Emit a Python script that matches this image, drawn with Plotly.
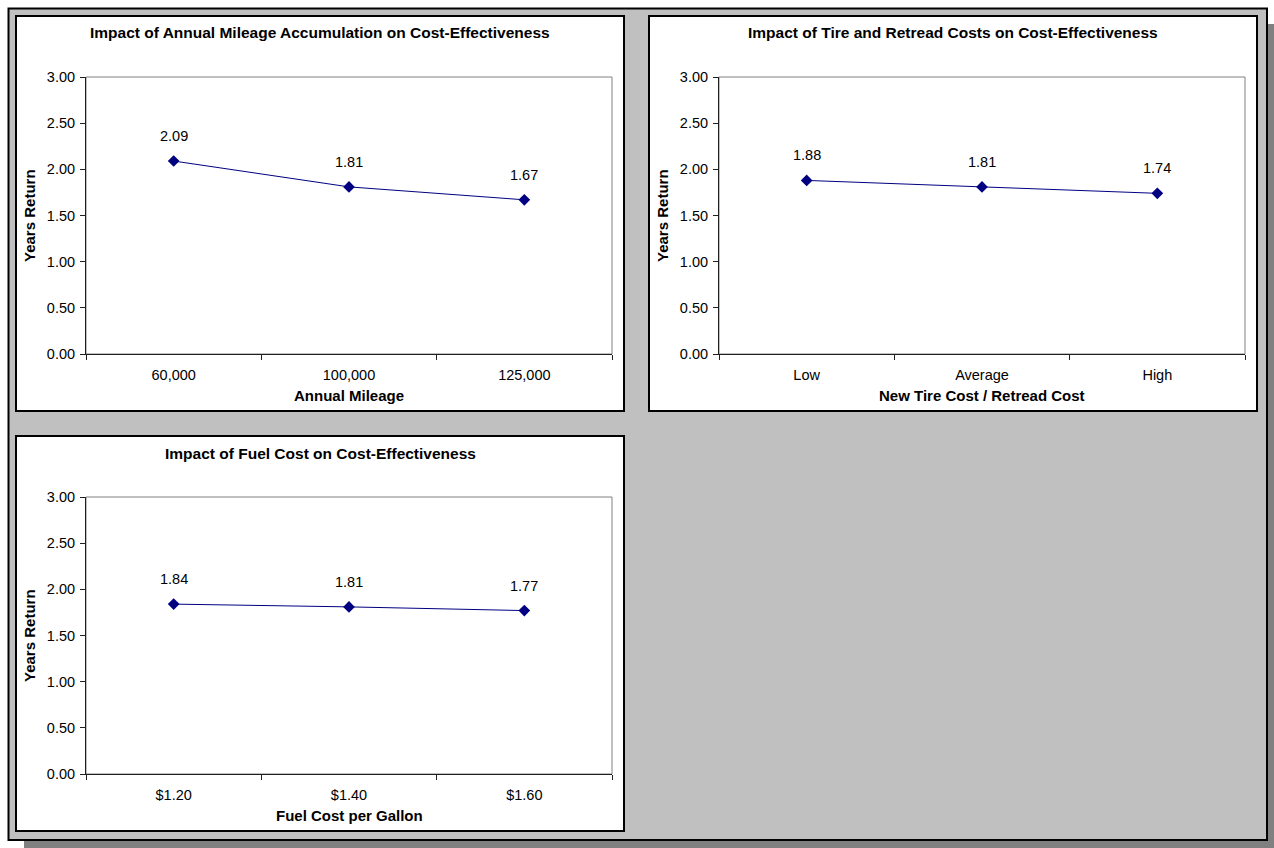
import plotly.graph_objects as go

# ---------------- data ----------------
mileage_cats = ["60,000", "100,000", "125,000"]
mileage_vals = [2.09, 1.81, 1.67]

tire_cats = ["Low", "Average", "High"]
tire_vals = [1.88, 1.81, 1.74]

fuel_cats = ["$1.20", "$1.40", "$1.60"]
fuel_vals = [1.84, 1.81, 1.77]

titles = [
    "Impact of Annual Mileage Accumulation on Cost-Effectiveness",
    "Impact of Tire and Retread Costs on Cost-Effectiveness",
    "Impact of Fuel Cost on Cost-Effectiveness",
]
x_titles = ["Annual Mileage", "New Tire Cost / Retread Cost", "Fuel Cost per Gallon"]
y_title = "Years Return"
y_ticks = [0.0, 0.5, 1.0, 1.5, 2.0, 2.5, 3.0]

# ---------------- layout helpers ----------------
W, H = 1274, 848
FONT = "Liberation Sans, Arial, sans-serif"
NAVY = "#000080"


def px(x):
    return x / W


def py(y):
    return 1 - y / H


# panel boxes (left, top, right, bottom) in pixels
panels = [(16, 16, 624, 411), (649, 16, 1257, 411), (16, 436, 624, 831)]
# plot areas (left, top, right, bottom)
plots = [(86, 77, 612, 354), (719, 77, 1245, 354), (86, 497, 612, 774)]

series = [(mileage_cats, mileage_vals), (tire_cats, tire_vals), (fuel_cats, fuel_vals)]

fig = go.Figure()
shapes = []
annotations = []

# shadow and outer frame
shapes.append(dict(type="rect", xref="paper", yref="paper", layer="below",
                   x0=px(24), x1=px(1274), y0=py(848), y1=py(24),
                   fillcolor="#808080", line=dict(width=0)))
shapes.append(dict(type="rect", xref="paper", yref="paper", layer="below",
                   x0=px(8.5), x1=px(1267), y0=py(840), y1=py(8.5),
                   fillcolor="#C0C0C0", line=dict(color="black", width=2)))
for (l, t, r, b) in panels:
    shapes.append(dict(type="rect", xref="paper", yref="paper", layer="below",
                       x0=px(l), x1=px(r), y0=py(b), y1=py(t),
                       fillcolor="white", line=dict(color="black", width=2)))

for i, ((cats, vals), (l, t, r, b), (pl, pt, pr, pb)) in enumerate(zip(series, plots, panels)):
    n = i + 1
    xa = "x" if n == 1 else f"x{n}"
    ya = "y" if n == 1 else f"y{n}"
    fig.add_trace(go.Scatter(
        x=cats, y=vals, mode="lines+markers",
        line=dict(color=NAVY, width=1),
        marker=dict(symbol="diamond", size=9, color=NAVY),
        xaxis=xa, yaxis=ya, showlegend=False, hoverinfo="x+y",
    ))
    xkey = "xaxis" if n == 1 else f"xaxis{n}"
    ykey = "yaxis" if n == 1 else f"yaxis{n}"
    fig.update_layout(**{
        xkey: dict(domain=[px(l), px(r)], anchor=ya, type="category",
                   categoryorder="array", categoryarray=cats,
                   range=[-0.5, len(cats) - 0.5], automargin=False,
                   showgrid=False, zeroline=False, showline=True,
                   linecolor="#202020", linewidth=1,
                   ticks="outside", tickson="boundaries", ticklen=5,
                   tickcolor="#202020", tickwidth=1, ticklabelstandoff=8,
                   tickfont=dict(family=FONT, size=14.5, color="black")),
        ykey: dict(domain=[py(b), py(t)], anchor=xa, range=[0, 3],
                   tickvals=y_ticks, tickformat=".2f", automargin=False,
                   showgrid=False, zeroline=False, showline=True,
                   linecolor="#202020", linewidth=1,
                   ticks="outside", ticklen=5, tickcolor="#202020", tickwidth=1,
                   ticklabelstandoff=2,
                   tickfont=dict(family=FONT, size=14.5, color="black")),
    })
    # plot-area border (gray top/right)
    shapes.append(dict(type="rect", xref=f"{xa} domain", yref=f"{ya} domain", layer="below",
                       x0=0, x1=1, y0=0, y1=1, fillcolor="rgba(0,0,0,0)",
                       line=dict(color="#808080", width=1)))
    # data labels
    for c, v in zip(cats, vals):
        annotations.append(dict(x=c, y=v, xref=xa, yref=ya, text=f"{v:.2f}",
                                showarrow=False, yshift=25,
                                font=dict(family=FONT, size=14.5, color="black")))
    (PL, PT, PR, PB) = panels[i]
    (l, t, r, b) = plots[i]
    # chart title
    annotations.append(dict(x=px((PL + PR) / 2), y=py(PT + 17), xref="paper", yref="paper",
                            text=f"<b>{titles[i]}</b>", showarrow=False,
                            xanchor="center", yanchor="middle",
                            font=dict(family=FONT, size=15.5, color="black")))
    # x-axis title
    annotations.append(dict(x=px((l + r) / 2), y=py(b + 41), xref="paper", yref="paper",
                            text=f"<b>{x_titles[i]}</b>", showarrow=False,
                            xanchor="center", yanchor="middle",
                            font=dict(family=FONT, size=15, color="black")))
    # y-axis title
    annotations.append(dict(x=px(l - 56.5), y=py((t + b) / 2), xref="paper", yref="paper",
                            text=f"<b>{y_title}</b>", showarrow=False, textangle=-90,
                            xanchor="center", yanchor="middle",
                            font=dict(family=FONT, size=15, color="black")))

fig.update_layout(
    width=W, height=H, autosize=False,
    margin=dict(l=0, r=0, t=0, b=0, pad=0, autoexpand=False),
    paper_bgcolor="white",
    plot_bgcolor="rgba(0,0,0,0)",
    shapes=shapes,
    annotations=annotations,
    font=dict(family=FONT, color="black"),
)

post = (
    "var s=document.createElement('style');"
    "s.innerHTML='html,body{margin:0!important;padding:0!important;overflow:hidden;}';"
    "document.head.appendChild(s);"
    "window.scrollTo(0,0);"
)
fig.write_html("out.html", post_script=post, config={"displayModeBar": False})
